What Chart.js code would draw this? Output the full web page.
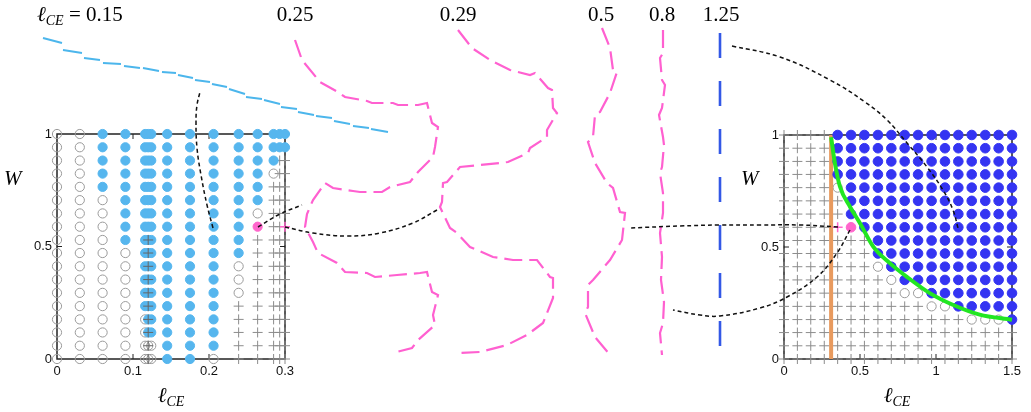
<!DOCTYPE html>
<html>
<head>
<meta charset="utf-8">
<script src="https://cdn.jsdelivr.net/npm/chart.js@4.4.1/dist/chart.umd.min.js"></script>
<style>
  html, body { margin: 0; padding: 0; background: #fff; }
  #fig { position: relative; width: 1031px; height: 412px; overflow: hidden; }
  #fig canvas { position: absolute; left: 0; top: 0; }
  .tx { position: absolute; font-family: "Liberation Serif", serif; font-size: 21px; line-height: 21px; color: #000; white-space: nowrap; }
  .tx sub { font-size: 14px; line-height: 0; vertical-align: -4px; font-style: italic; }
  .c { transform: translateX(-50%); }
</style>
</head>
<body>
<div id="fig">
  <canvas id="left" width="1031" height="412"></canvas>
  <canvas id="right" width="1031" height="412"></canvas>
  <canvas id="paths" width="1031" height="412"></canvas>

  <div class="tx" style="left:37px;top:4px"><i>ℓ</i><sub>CE</sub> = 0.15</div>
  <div class="tx c" style="left:295px;top:4px">0.25</div>
  <div class="tx c" style="left:458px;top:4px">0.29</div>
  <div class="tx c" style="left:601px;top:4px">0.5</div>
  <div class="tx c" style="left:662px;top:4px">0.8</div>
  <div class="tx c" style="left:721px;top:4px">1.25</div>

  <div class="tx" style="left:4px;top:168px"><i>W</i></div>
  <div class="tx" style="left:741px;top:168px"><i>W</i></div>
  <div class="tx c" style="left:171px;top:385px"><i>ℓ</i><sub>CE</sub></div>
  <div class="tx c" style="left:897px;top:385px"><i>ℓ</i><sub>CE</sub></div>
</div>

<script>
// W values of the sample rows (bottom to top), shared by both panels
const wRows = [0, 0.059, 0.118, 0.176, 0.235, 0.294, 0.353, 0.412, 0.471, 0.529,
               0.588, 0.647, 0.706, 0.765, 0.824, 0.882, 0.941, 1];

// left panel: one string per column, one char per row (bottom first)
// o = open circle, b = filled, + = cross, c = filled + cross, q = circle + cross,
// p = pink dot, x = pink cross
const leftCols = [0, 0.03, 0.06, 0.09, 0.116, 0.12, 0.124, 0.145, 0.175, 0.206, 0.239, 0.264, 0.285, 0.293, 0.3];
const leftCells = [
  "oooooooooooooooooo",
  "oooooooooooooooooo",
  "ooooooooooooobbbbb",
  "ooooooooobbbbbbbbb",
  "oooobbbbbbbbbbbbbb",
  "qqccccccccbbbbbbbb",
  "oobbbbbbbbbbbbbbbb",
  "bbbbbbbbbbbbbbbbbb",
  "bbbbbbbbbbbbbbbbbb",
  "obbbbbbbbbbbbbbbbb",
  "+++++ooobbbbbbbbbb",
  "++++++++++pobbbbbb",
  "++++++++++++++obbb",
  "++++++++++++++++bb",
  "++++++++++x+++++bb",
];

// right panel
const rightCols = [0, 0.088, 0.176, 0.265, 0.353, 0.441, 0.529, 0.618, 0.706, 0.794,
                   0.882, 0.971, 1.059, 1.147, 1.235, 1.324, 1.412, 1.5];
const rightCells = [
  "++++++++++++++++++",
  "++++++++++++++++++",
  "++++++++++++++++++",
  "++++++++++++++++++",
  "++++++++++x++obbbb",
  "++++++++++pbbbbbbb",
  "++++++++++bbbbbbbb",
  "+++++++obbbbbbbbbb",
  "++++++obbbbbbbbbbb",
  "+++++obbbbbbbbbbbb",
  "+++++obbbbbbbbbbbb",
  "++++obbbbbbbbbbbbb",
  "++++obbbbbbbbbbbbb",
  "++++bbbbbbbbbbbbbb",
  "+++obbbbbbbbbbbbbb",
  "+++obbbbbbbbbbbbbb",
  "+++obbbbbbbbbbbbbb",
  "+++bbbbbbbbbbbbbbb",
];

// boundary curve and threshold line in the right panel
const greenL = [0.31, 0.335, 0.368, 0.434, 0.5, 0.587, 0.696, 0.806, 0.959, 1.11, 1.287, 1.5];
const greenW = [0.99, 0.874, 0.77, 0.68, 0.606, 0.502, 0.428, 0.368, 0.294, 0.242, 0.198, 0.175];
const orangeL = 0.31;

// trajectories drawn across the figure (page coordinates)
// l_CE = 0.15 is drawn dash by dash: [x1, y1, x2, y2]
const dashes015 = [[43,38,62,43],[63,50,82,53],[84,58,100,60],[103,63,121,64],[124,66,140,68],
  [143,68,159,71],[162,72,176,73],[178,75,193,78],[195,80,210,82],[212,84,227,87],[229,89,245,94],
  [246,97,262,99],[264,100,280,104],[281,107,297,109],[298,112,314,115],[316,116,332,118],
  [334,121,350,124],[353,126,369,128],[371,129,388,132]];
const path025 = [[295,40],[302,60],[320,82],[338,92],[345,97],[367,101],[372,103],[393,103],[398,105],
  [418,105],[427,103],[432,123],[438,127],[435,147],[433,157],[418,172],[410,182],[390,187],[382,192],
  [360,192],[353,191],[333,188],[325,183],[313,200],[307,214],[305,227],[313,242],[318,253],[337,263],
  [345,272],[367,273],[375,277],[397,275],[420,273],[427,272],[432,292],[438,295],[433,315],[435,325],
  [418,340],[412,348],[393,353]];
const path029 = [[458,30],[472,48],[490,60],[510,70],[530,75],[535,73],[548,88],[552,90],[553,108],
  [557,113],[547,130],[547,137],[530,148],[528,153],[508,162],[500,163],[460,167],[447,182],[443,183],
  [442,202],[440,207],[450,228],[457,233],[470,247],[493,257],[513,260],[537,260],[550,277],[553,278],
  [553,298],[543,323],[527,335],[507,345],[480,352],[460,353]];
const path05 = [[602,28],[610,48],[613,70],[617,72],[610,93],[600,112],[595,115],[593,137],[588,142],
  [595,163],[607,183],[613,188],[620,212],[625,213],[622,240],[610,260],[593,280],[588,285],[588,307],
  [585,313],[595,337],[610,355]];
const path08 = [[663,30],[663,53],[660,58],[662,80],[665,85],[662,108],[659,115],[663,137],[664,145],
  [662,167],[660,173],[663,193],[663,213],[660,233],[662,257],[661,280],[664,302],[663,323],[660,333],
  [662,355]];
const path125 = [[720,33],[720,347]];

// dashed pointers from sample points to their trajectories
const links = [
  [[213,228],[207,205],[201,175],[197,148],[196,122],[197,105],[200,92]],
  [[258,227],[280,214],[302,205]],
  [[285,227],[313,233],[347,236],[380,233],[413,223],[437,210]],
  [[838,227],[800,225],[760,225],[720,225],[680,226],[630,228]],
  [[850,230],[837,253],[817,277],[787,297],[760,308],[720,316],[700,315],[673,310]],
  [[732,46],[780,57],[830,80],[865,102],[887,120],[907,143],[927,167],[943,190],[953,210],[958,228]],
];

const skyBlue = "#56b6ee";
const deepBlue = "#3434f2";
const pink = "#ff66cc";
const pinkLine = "#ff60d0";

function cellsOf(cols, cells, marks) {
  const pts = [];
  cols.forEach((x, i) => {
    [...cells[i]].forEach((m, j) => {
      if (marks.includes(m)) pts.push({ x: x, y: wRows[j] });
    });
  });
  return pts;
}

function marks(data, style, fill, stroke, r, bw) {
  return {
    data: data, pointStyle: style, pointRadius: r, pointHoverRadius: r,
    backgroundColor: fill, borderColor: stroke, pointBorderWidth: bw,
    showLine: false, clip: false,
  };
}

// box around plot area with small inward ticks
const framePlugin = {
  id: "frame",
  beforeDatasetsDraw(chart) {
    const { ctx, chartArea: a, scales } = chart;
    ctx.save();
    ctx.strokeStyle = "#222";
    ctx.lineWidth = 1.5;
    ctx.strokeRect(a.left, a.top, a.right - a.left, a.bottom - a.top);
    ctx.lineWidth = 1;
    ctx.beginPath();
    scales.x.ticks.forEach((t) => {
      if (t.value <= scales.x.min || t.value >= scales.x.max) return;
      const px = scales.x.getPixelForValue(t.value);
      ctx.moveTo(px, a.bottom); ctx.lineTo(px, a.bottom - 5);
      ctx.moveTo(px, a.top); ctx.lineTo(px, a.top + 5);
    });
    scales.y.ticks.forEach((t) => {
      if (t.value <= scales.y.min || t.value >= scales.y.max) return;
      const py = scales.y.getPixelForValue(t.value);
      ctx.moveTo(a.left, py); ctx.lineTo(a.left + 5, py);
      ctx.moveTo(a.right, py); ctx.lineTo(a.right - 5, py);
    });
    ctx.stroke();
    ctx.restore();
  },
};

const plainNum = (v) => String(Math.round(v * 100) / 100);

function panelOptions(xMax, xStep, pad) {
  const tickFont = { family: "Liberation Sans", size: 13 };
  return {
    responsive: false,
    animation: false,
    devicePixelRatio: 1,
    layout: { padding: pad, autoPadding: false },
    plugins: { legend: { display: false }, tooltip: { enabled: false } },
    scales: {
      x: {
        type: "linear", min: 0, max: xMax,
        ticks: { stepSize: xStep, padding: 5, color: "#111", font: tickFont, callback: plainNum },
        grid: { display: false, drawTicks: false },
        border: { display: false },
        afterFit: (s) => { s.height = 30; },
      },
      y: {
        type: "linear", min: 0, max: 1,
        ticks: { stepSize: 0.5, padding: 5, color: "#111", font: tickFont, callback: plainNum },
        grid: { display: false, drawTicks: false },
        border: { display: false },
        afterFit: (s) => { s.width = 40; },
      },
    },
  };
}

// left panel
new Chart(document.getElementById("left"), {
  type: "scatter",
  data: {
    datasets: [
      marks(cellsOf(leftCols, leftCells, "p"), "circle", pink, pink, 4.6, 1),
      marks(cellsOf(leftCols, leftCells, "x"), "cross", pink, pink, 5, 1.5),
      marks(cellsOf(leftCols, leftCells, "cq"), "cross", "#666", "#666", 5, 1),
      marks(cellsOf(leftCols, leftCells, "bc"), "circle", skyBlue, skyBlue, 4.6, 1),
      marks(cellsOf(leftCols, leftCells, "oq"), "circle", "rgba(0,0,0,0)", "#9a9a9a", 4.6, 1),
      marks(cellsOf(leftCols, leftCells, "+"), "cross", "#8c8c8c", "#8c8c8c", 5, 1),
    ],
  },
  options: panelOptions(0.3, 0.1, { left: 17, right: 746, top: 134, bottom: 23 }),
  plugins: [framePlugin],
});

// right panel
new Chart(document.getElementById("right"), {
  type: "scatter",
  data: {
    datasets: [
      {
        data: greenL.map((l, i) => ({ x: l, y: greenW[i] })),
        showLine: true, borderColor: "#22e622", borderWidth: 4, pointRadius: 0,
        tension: 0.4, cubicInterpolationMode: "monotone", clip: false,
      },
      marks(cellsOf(rightCols, rightCells, "p"), "circle", pink, pink, 4.8, 1),
      marks(cellsOf(rightCols, rightCells, "x"), "cross", pink, pink, 5, 1.5),
      marks(cellsOf(rightCols, rightCells, "b"), "circle", deepBlue, deepBlue, 4.8, 1),
      {
        data: [{ x: orangeL, y: 0 }, { x: orangeL, y: 1 }],
        showLine: true, borderColor: "#e89a5e", borderWidth: 4, pointRadius: 0, clip: false,
      },
      marks(cellsOf(rightCols, rightCells, "o"), "circle", "rgba(0,0,0,0)", "#9a9a9a", 4.6, 1),
      marks(cellsOf(rightCols, rightCells, "+"), "cross", "#8c8c8c", "#8c8c8c", 5, 1),
    ],
  },
  options: panelOptions(1.5, 0.5, { left: 744, right: 19, top: 135, bottom: 23 }),
  plugins: [framePlugin],
});

// trajectories + pointers on top
function pathSet(pts, color, width, dash, tension) {
  return {
    data: pts.map(([x, y]) => ({ x: x, y: y })),
    showLine: true, borderColor: color, borderWidth: width, borderDash: dash,
    pointRadius: 0, tension: tension, fill: false, clip: false, spanGaps: false,
  };
}

// separate dashes joined into one dataset, broken by empty points
const dashPts015 = [];
dashes015.forEach(([x1, y1, x2, y2]) => {
  dashPts015.push([x1, y1], [x2, y2], [x2, null]);
});

new Chart(document.getElementById("paths"), {
  type: "scatter",
  data: {
    datasets: [
      ...links.map((l) => pathSet(l, "#111", 1.5, [4, 3], 0.4)),
      pathSet(dashPts015, "#4cb6ec", 2, [], 0),
      pathSet(path025, pinkLine, 2.2, [18, 7], 0),
      pathSet(path029, pinkLine, 2.2, [18, 7], 0),
      pathSet(path05, pinkLine, 2.2, [18, 7], 0),
      pathSet(path08, pinkLine, 2.2, [18, 7], 0),
      pathSet(path125, "#3358e6", 2.6, [25, 23], 0),
    ],
  },
  options: {
    responsive: false,
    animation: false,
    devicePixelRatio: 1,
    layout: { padding: 0, autoPadding: false },
    plugins: { legend: { display: false }, tooltip: { enabled: false } },
    scales: {
      x: { type: "linear", min: 0, max: 1031, display: false },
      y: { type: "linear", min: 0, max: 412, reverse: true, display: false },
    },
  },
});
</script>
</body>
</html>
